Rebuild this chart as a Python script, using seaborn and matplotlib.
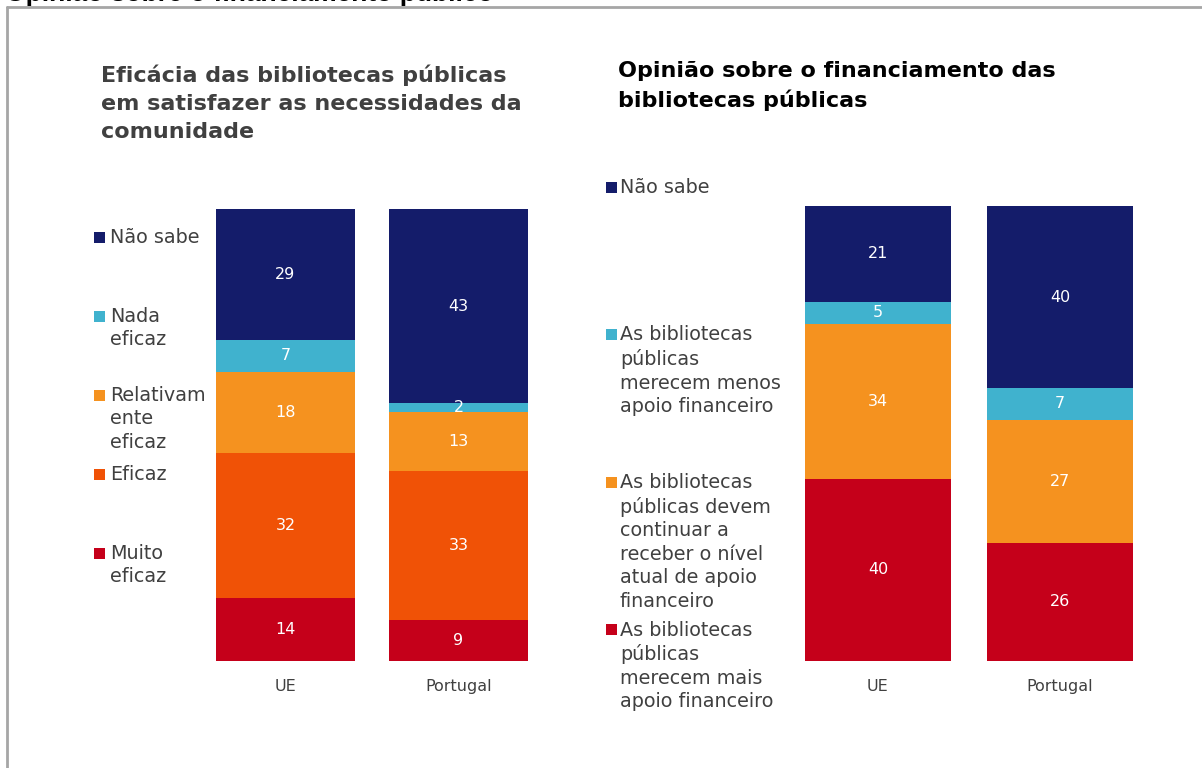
import matplotlib
matplotlib.use("Agg")
import matplotlib.pyplot as plt
from matplotlib.patches import Rectangle
from matplotlib.lines import Line2D
import seaborn as sns
import numpy as np

# ---------------- data ----------------
regions = ["UE", "Portugal"]

# left panel (bottom -> top)
left_labels = ["Muito\neficaz", "Eficaz", "Relativam\nente\neficaz", "Nada\neficaz", "Não sabe"]
muito_eficaz = [14, 9]
eficaz = [32, 33]
relativamente_eficaz = [18, 13]
nada_eficaz = [7, 2]
nao_sabe_left = [29, 43]

# right panel (bottom -> top)
right_labels = [
    "As bibliotecas\npúblicas\nmerecem mais\napoio financeiro",
    "As bibliotecas\npúblicas devem\ncontinuar a\nreceber o nível\natual de apoio\nfinanceiro",
    "As bibliotecas\npúblicas\nmerecem menos\napoio financeiro",
    "Não sabe",
]
mais_apoio = [40, 26]
mesmo_apoio = [34, 27]
menos_apoio = [5, 7]
nao_sabe_right = [21, 40]

left_colors = ["#c5001a", "#f05206", "#f5921f", "#40b2ce", "#141c6a"]
right_colors = ["#c5001a", "#f5921f", "#40b2ce", "#141c6a"]

TXT = "#404040"
W, H = 1202, 768

sns.set_theme(style="white")
plt.rcParams["font.family"] = ["DejaVu Sans"]

fig = plt.figure(figsize=(W / 100, H / 100), dpi=100)


def fx(px):
    return px / W


def fy(py):
    return 1 - py / H


def stacked(ax, layers, colors):
    layers = np.array(layers, dtype=float)
    cum = np.cumsum(layers, axis=0)
    # draw tallest cumulative first so lower layers sit on top
    for i in range(len(layers) - 1, -1, -1):
        sns.barplot(x=regions, y=cum[i], color=colors[i], saturation=1,
                    width=0.8, errorbar=None, ax=ax, linewidth=0)
    for i in range(len(layers)):
        for j in range(len(regions)):
            mid = cum[i][j] - layers[i][j] / 2
            ax.text(j, mid, f"{int(layers[i][j])}", ha="center", va="center",
                    color="white", fontsize=11.5)
    ax.set_ylim(0, 100)
    ax.set_xlim(-0.5, 1.5)
    ax.set_yticks([])
    ax.set_ylabel("")
    sns.despine(ax=ax, left=True, bottom=True)
    ax.tick_params(axis="x", length=0, pad=13, labelsize=11.5, labelcolor=TXT)


ax1 = fig.add_axes([fx(199), fy(661), fx(346), (661 - 209) / H])
stacked(ax1, [muito_eficaz, eficaz, relativamente_eficaz, nada_eficaz, nao_sabe_left], left_colors)

ax2 = fig.add_axes([fx(787), fy(661), fx(364), (661 - 206) / H])
stacked(ax2, [mais_apoio, mesmo_apoio, menos_apoio, nao_sabe_right], right_colors)

# titles
fig.text(fx(5), fy(0.5), "Opinião sobre o financiamento público", fontsize=19,
         fontweight="bold", family="Liberation Sans", color="black", va="baseline")
fig.text(fx(101), fy(64), "Eficácia das bibliotecas públicas\nem satisfazer as necessidades da\ncomunidade",
         fontsize=16, fontweight="bold", color=TXT, va="top", linespacing=1.5)
fig.text(fx(618), fy(61), "Opinião sobre o financiamento das\nbibliotecas públicas",
         fontsize=16, fontweight="bold", color="black", va="top", linespacing=1.5)


def legend(labels, colors, x_sq, x_txt, y0, step):
    n = len(labels)
    for k in range(n):
        idx = n - 1 - k  # top entry first
        yc = y0 + k * step
        fig.patches.append(Rectangle((fx(x_sq), fy(yc + 5.5)), fx(11), 11 / H,
                                     transform=fig.transFigure, color=colors[idx], lw=0))
        fig.text(fx(x_txt), fy(yc - 9), labels[idx], fontsize=13.8, color=TXT,
                 va="top", linespacing=1.3)


legend(left_labels, left_colors, 94, 110, 237, 79)
legend(right_labels, right_colors, 606, 620, 187, 147.5)

# frame lines (top and left only visible)
fig.add_artist(Line2D([fx(7), 1], [fy(7), fy(7)], transform=fig.transFigure,
                      color="#a6a6a6", lw=2))
fig.add_artist(Line2D([fx(7), fx(7)], [fy(7), 0], transform=fig.transFigure,
                      color="#a6a6a6", lw=2))

fig.savefig("out.png", dpi=100)
